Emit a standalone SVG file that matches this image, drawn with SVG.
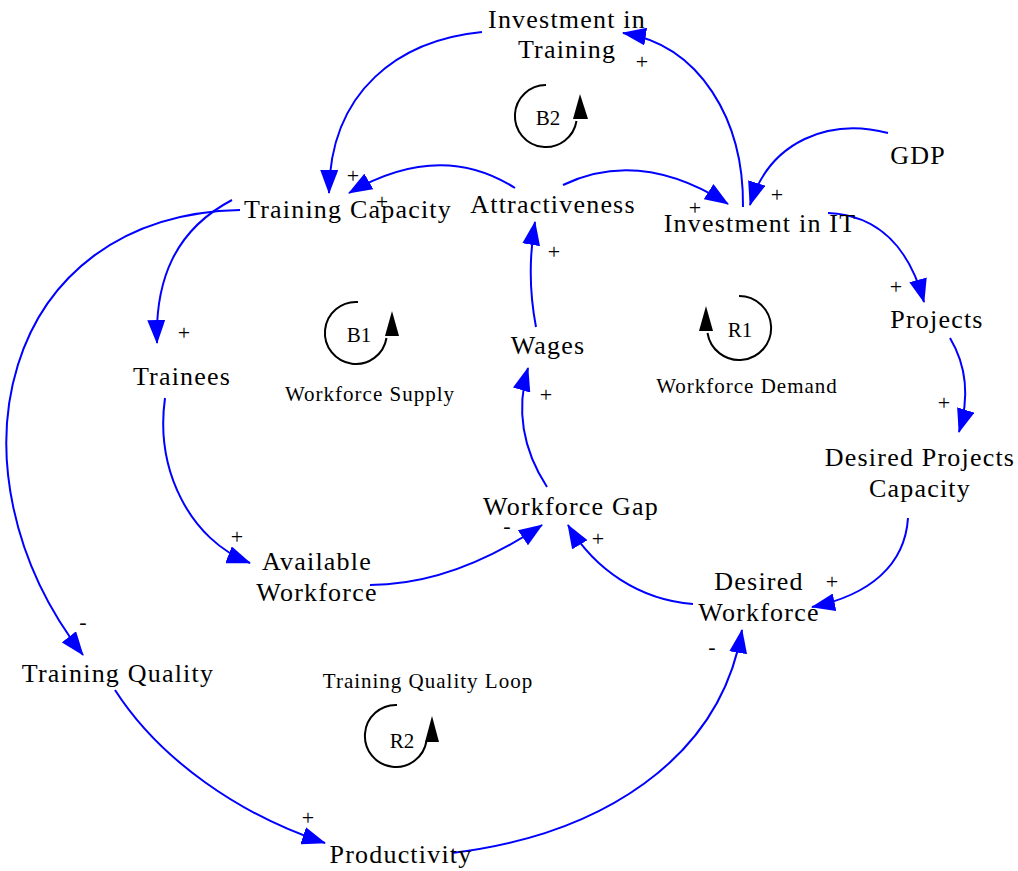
<svg xmlns="http://www.w3.org/2000/svg" width="1018" height="871" viewBox="0 0 1018 871">
  <style>
    .bg { fill: #ffffff; }
    .node { font-family: "Liberation Serif", "Times New Roman", serif; font-size: 26px; letter-spacing: 1.2px; fill: #000; text-anchor: middle; }
    .sign { font-family: "Liberation Serif", "Times New Roman", serif; font-size: 22px; fill: #000; text-anchor: middle; }
    .loopname { font-family: "Liberation Serif", "Times New Roman", serif; font-size: 21px; letter-spacing: 1px; fill: #000; text-anchor: middle; }
    .looptag { font-family: "Liberation Serif", "Times New Roman", serif; font-size: 21px; fill: #000; text-anchor: middle; }
    .link { fill: none; stroke: #0000ff; stroke-width: 2; marker-end: url(#head); }
    .loop { fill: none; stroke: #000; stroke-width: 2; }
    .loophead { fill: #000; }
  </style>
  <defs>
    <marker id="head" markerUnits="userSpaceOnUse" markerWidth="24" markerHeight="18" refX="23" refY="9" orient="auto">
      <path d="M0,0 L24,9 L0,18 z" fill="#0000ff"/>
    </marker>
  </defs>
  <rect class="bg" x="0" y="0" width="1018" height="871"/>

  <!-- causal links -->
  <g id="connectors">
    <path class="link" d="M743,207 C744,120 700,45 623,33"/>
    <path class="link" d="M482,32 C400,40 330,90 329,193"/>
    <path class="link" d="M515,188 Q440,140 349,193"/>
    <path class="link" d="M563,185 Q640,148 728,204"/>
    <path class="link" d="M888,133 C830,118 770,140 750,205"/>
    <path class="link" d="M828,213 C880,215 910,250 924,302"/>
    <path class="link" d="M950,338 Q975,380 959,432"/>
    <path class="link" d="M908,518 C905,565 870,595 812,607"/>
    <path class="link" d="M693,604 C640,600 595,570 568,525"/>
    <path class="link" d="M370,585 C430,585 490,560 542,525"/>
    <path class="link" d="M547,487 Q510,430 528,368"/>
    <path class="link" d="M536,327 Q526,275 535,222"/>
    <path class="link" d="M232,200 C175,230 155,280 157,343"/>
    <path class="link" d="M240,210 C0,215 -60,470 83,655"/>
    <path class="link" d="M165,398 C155,470 190,540 250,563"/>
    <path class="link" d="M115,690 C160,760 240,815 325,843"/>
    <path class="link" d="M452,853 C600,835 720,760 742,630"/>
  </g>

  <!-- link polarities -->
  <g id="polarities">
    <text class="sign" x="642" y="69">+</text>
    <text class="sign" x="353" y="183">+</text>
    <text class="sign" x="382" y="209">+</text>
    <text class="sign" x="695" y="215">+</text>
    <text class="sign" x="777" y="202">+</text>
    <text class="sign" x="896" y="294">+</text>
    <text class="sign" x="944" y="410">+</text>
    <text class="sign" x="184" y="340">+</text>
    <text class="sign" x="554" y="259">+</text>
    <text class="sign" x="546" y="402">+</text>
    <text class="sign" x="507" y="533">-</text>
    <text class="sign" x="598" y="546">+</text>
    <text class="sign" x="832" y="589">+</text>
    <text class="sign" x="712" y="654">-</text>
    <text class="sign" x="237" y="544">+</text>
    <text class="sign" x="83" y="629">-</text>
    <text class="sign" x="308" y="825">+</text>
  </g>

  <!-- variables -->
  <g id="investment-in-training">
    <text class="node" x="567" y="28">Investment in</text>
    <text class="node" x="567" y="58">Training</text>
  </g>
  <g id="training-capacity"><text class="node" x="348" y="218">Training Capacity</text></g>
  <g id="attractiveness"><text class="node" x="553" y="213">Attractiveness</text></g>
  <g id="investment-in-it"><text class="node" x="760" y="232">Investment in IT</text></g>
  <g id="gdp"><text class="node" x="918" y="164">GDP</text></g>
  <g id="projects"><text class="node" x="937" y="328">Projects</text></g>
  <g id="desired-projects-capacity">
    <text class="node" x="920" y="466">Desired Projects</text>
    <text class="node" x="920" y="497">Capacity</text>
  </g>
  <g id="trainees"><text class="node" x="182" y="385">Trainees</text></g>
  <g id="wages"><text class="node" x="548" y="354">Wages</text></g>
  <g id="workforce-gap"><text class="node" x="571" y="515">Workforce Gap</text></g>
  <g id="available-workforce">
    <text class="node" x="317" y="570">Available</text>
    <text class="node" x="317" y="601">Workforce</text>
  </g>
  <g id="desired-workforce">
    <text class="node" x="759" y="590">Desired</text>
    <text class="node" x="759" y="621">Workforce</text>
  </g>
  <g id="training-quality"><text class="node" x="118" y="682">Training Quality</text></g>
  <g id="productivity"><text class="node" x="401" y="863">Productivity</text></g>

  <!-- loop markers -->
  <g id="loop-b2">
    <path class="loop" d="M546,85 A31,31 0 1 0 576.5,121"/>
    <path class="loophead" d="M580,94 L588,119 L573,119 z"/>
    <text class="looptag" x="548" y="125">B2</text>
  </g>
  <g id="loop-b1">
    <path class="loop" d="M358,302 A31,31 0 1 0 386.5,338"/>
    <path class="loophead" d="M392,311 L399,336 L385,336 z"/>
    <text class="looptag" x="359" y="342">B1</text>
    <text class="loopname" x="370" y="401">Workforce Supply</text>
  </g>
  <g id="loop-r1">
    <path class="loop" d="M739,296 A32,32 0 1 1 707.5,333"/>
    <path class="loophead" d="M706,306 L713,331 L699,331 z"/>
    <text class="looptag" x="740" y="337">R1</text>
    <text class="loopname" x="747" y="393">Workforce Demand</text>
  </g>
  <g id="loop-r2">
    <path class="loop" d="M397,705 A31,31 0 1 0 426.5,741"/>
    <path class="loophead" d="M432,716 L439,742 L425,742 z"/>
    <text class="looptag" x="402" y="748">R2</text>
    <text class="loopname" x="428" y="688">Training Quality Loop</text>
  </g>
</svg>
